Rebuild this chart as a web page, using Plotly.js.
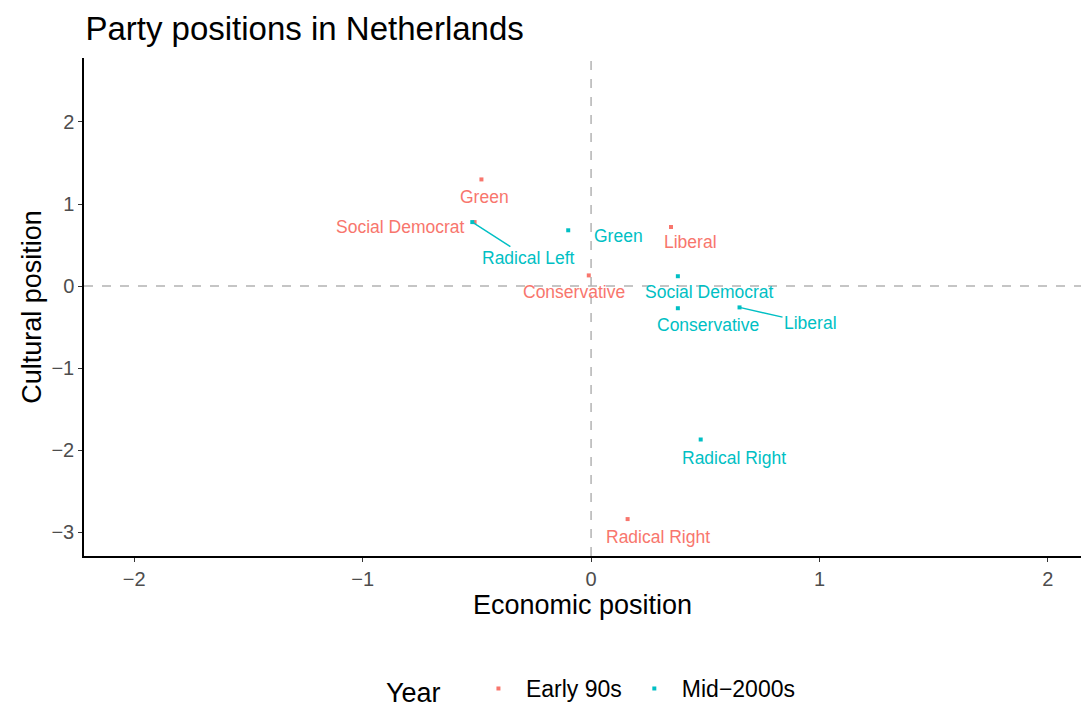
<!DOCTYPE html>
<html><head><meta charset="utf-8">
<script src="https://cdn.plot.ly/plotly-3.0.1.min.js"></script>
<style>html,body{margin:0;padding:0;background:#fff}#chart{width:1081px;height:707px}</style>
</head><body><div id="chart"></div>
<script>
// Data
var parties90 = ["Green", "Social Democrat", "Liberal", "Conservative", "Radical Right"];
var econ90 = [-0.48, -0.51, 0.35, -0.01, 0.16];
var cult90 = [1.30, 0.78, 0.72, 0.13, -2.84];
var parties00 = ["Radical Left", "Green", "Social Democrat", "Conservative", "Liberal", "Radical Right"];
var econ00 = [-0.52, -0.10, 0.38, 0.38, 0.65, 0.48];
var cult00 = [0.78, 0.68, 0.12, -0.27, -0.26, -1.87];
var seriesNames = ["Early 90s", "Mid\u22122000s"];

// Label placement (pixel offsets, repel-style) and segment visibility
var off90 = [[3, 18, false], [-74, 5, false], [19, 15, false], [-15, 17, false], [30, 18, false]];
var off00 = [[56, 36, true], [50, 6, false], [32, 16, false], [30, 17, false], [71, 16, true], [33, 18, false]];

var red = "#F8766D", teal = "#00BFC4";
var FONT = "Liberation Sans, Arial, Helvetica, sans-serif";

var traces = [
  {x: econ90, y: cult90, text: parties90, type: "scatter", mode: "markers", name: seriesNames[0],
   marker: {color: red, size: 4, symbol: "square"}, hoverinfo: "text"},
  {x: econ00, y: cult00, text: parties00, type: "scatter", mode: "markers", name: seriesNames[1],
   marker: {color: teal, size: 4, symbol: "square"}, hoverinfo: "text"}
];

var ann = [];
function addLabels(xs, ys, labs, offs, col) {
  for (var i = 0; i < xs.length; i++) {
    ann.push({x: xs[i], y: ys[i], xref: "x", yref: "y", text: labs[i],
      showarrow: true, arrowhead: 0, arrowwidth: 1.4, standoff: 0,
      arrowcolor: offs[i][2] ? col : "rgba(0,0,0,0)",
      ax: offs[i][0], ay: offs[i][1],
      font: {family: FONT, size: 17.5, color: col}});
  }
}
addLabels(econ90, cult90, parties90, off90, red);
addLabels(econ00, cult00, parties00, off00, teal);

var layout = {
  width: 1081, height: 707,
  margin: {l: 84, r: 0, t: 58, b: 151},
  paper_bgcolor: "#fff", plot_bgcolor: "#fff",
  font: {family: FONT, color: "#000"},
  title: {text: "Party positions in Netherlands", x: 0.079, xanchor: "left", xref: "container",
          y: 0.96, yanchor: "middle", font: {size: 33, color: "#000"}},
  xaxis: {range: [-2.22, 2.145], tickvals: [-2, -1, 0, 1, 2], ticktext: ["\u22122", "\u22121", "0", "1", "2"],
          showgrid: false, zeroline: false, showline: true, linecolor: "#000", linewidth: 1.5,
          ticks: "outside", ticklen: 4, tickcolor: "#333", tickfont: {size: 20, color: "#4D4D4D"},
          title: {text: "Economic position", font: {size: 27, color: "#000"}, standoff: 6}},
  yaxis: {range: [-3.29, 2.78], tickvals: [-3, -2, -1, 0, 1, 2], ticktext: ["\u22123", "\u22122", "\u22121", "0", "1", "2"],
          showgrid: false, zeroline: false, showline: true, linecolor: "#000", linewidth: 1.5,
          ticks: "outside", ticklen: 4, tickcolor: "#333", tickfont: {size: 20, color: "#4D4D4D"},
          title: {text: "Cultural position", font: {size: 27, color: "#000"}, standoff: 2}},
  shapes: [
    {type: "line", xref: "x", yref: "paper", x0: 0, x1: 0, y0: 0, y1: 1, line: {color: "#B3B3B3", width: 1.5, dash: "dash"}, layer: "below"},
    {type: "line", xref: "paper", yref: "y", x0: 0, x1: 1, y0: 0, y1: 0, line: {color: "#B3B3B3", width: 1.5, dash: "dash"}, layer: "below"}
  ],
  annotations: ann,
  showlegend: true,
  legend: {orientation: "h", xref: "container", yref: "container", x: 0.548, xanchor: "center", y: 0.024, yanchor: "middle",
           title: {text: "Year   ", font: {size: 27, color: "#000"}, side: "left"},
           font: {size: 23, color: "#000"}, itemwidth: 45}
};

Plotly.newPlot("chart", traces, layout, {displayModeBar: false});
</script></body></html>
